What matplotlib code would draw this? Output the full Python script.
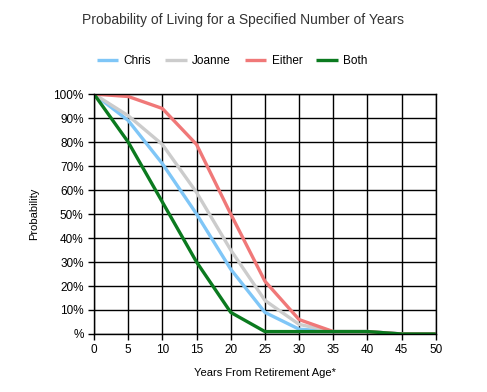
import numpy as np
import matplotlib
matplotlib.use("Agg")
import matplotlib.pyplot as plt
from matplotlib.ticker import FuncFormatter

plt.rcParams['font.family'] = ['Liberation Sans', 'DejaVu Sans']

years = [0, 5, 10, 15, 20, 25, 30, 35, 40, 45, 50]
chris = [100, 89, 71, 50, 27, 9, 2, 1, 1, 0, 0]
joanne = [100, 91, 79, 59, 35, 14, 4, 1, 1, 0, 0]
either = [100, 99, 94, 79, 50, 22, 6, 1, 1, 0, 0]
both = [100, 80, 55, 30, 9, 1, 1, 1, 1, 0, 0]

series = [("Chris", chris, "#7fc6f7"),
          ("Joanne", joanne, "#cccccc"),
          ("Either", either, "#f07878"),
          ("Both", both, "#0b7a1f")]

fig = plt.figure(figsize=(4.87, 3.92), dpi=100)
ax = fig.add_axes([0.193, 0.148, 0.702, 0.612])

for name, vals, col in series:
    ax.plot(years, vals, color=col, lw=2.4, label=name, solid_capstyle='butt')

ax.set_xlim(0, 50)
ax.set_ylim(0, 100)
ax.set_xticks(range(0, 51, 5))
ax.set_yticks(range(0, 101, 10))
ax.yaxis.set_major_formatter(FuncFormatter(lambda v, p: "%" if v == 0 else "%d%%" % v))
ax.grid(True, color="black", lw=1.0)
ax.set_axisbelow(True)
for s in ax.spines.values():
    s.set_color("black")
    s.set_linewidth(1.0)
ax.tick_params(direction='out', length=4, width=1, labelsize=8.5, colors='black')

ax.set_xlabel("Years From Retirement Age*", fontsize=8, labelpad=8)
ax.set_ylabel("Probability", fontsize=8, labelpad=10)
fig.text(0.5, 0.948, "Probability of Living for a Specified Number of Years",
         ha='center', va='center', fontsize=10, color='#333333')

fig.legend(loc='center', bbox_to_anchor=(0.477, 0.845), ncol=4, frameon=False,
           fontsize=8.5, handlelength=1.8, columnspacing=1.2, handletextpad=0.45)

fig.savefig("out.png", dpi=100)
